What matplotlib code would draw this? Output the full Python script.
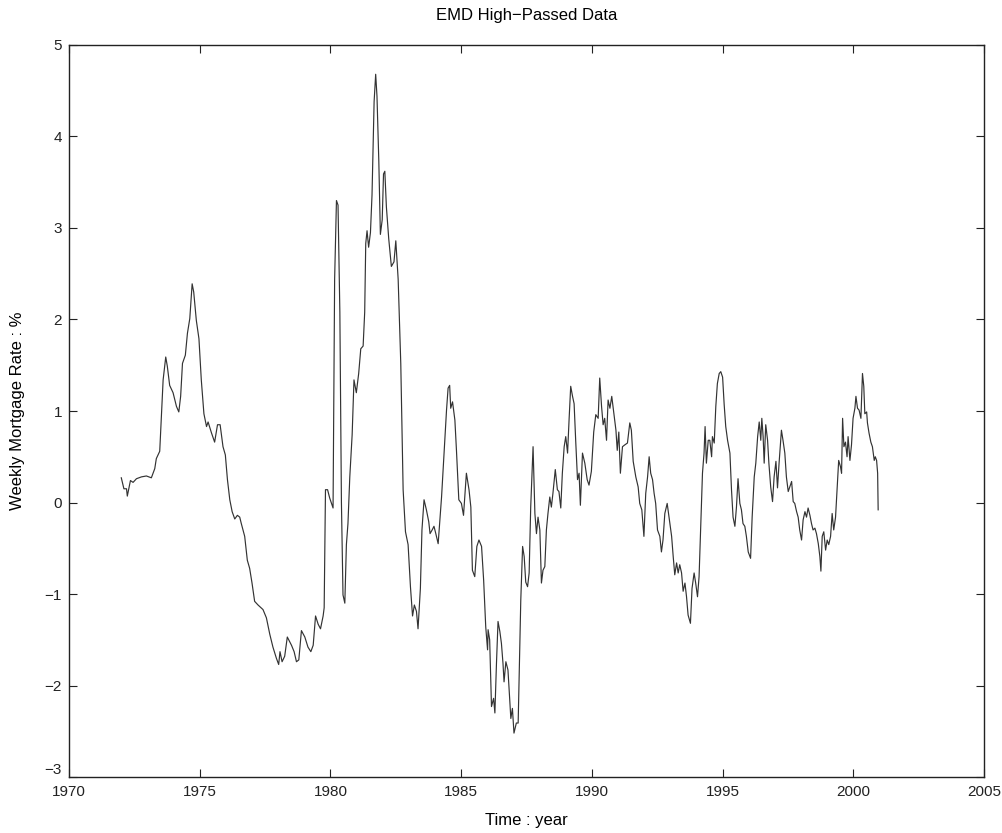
import matplotlib
matplotlib.use("Agg")
import matplotlib.pyplot as plt

# EMD high-passed weekly mortgage rate
years = [
    1972.00, 1972.10, 1972.20, 1972.23, 1972.35, 1972.45, 1972.58, 1972.77, 1972.96, 1973.15,
    1973.28, 1973.34, 1973.47, 1973.60, 1973.70, 1973.76, 1973.85, 1973.98, 1974.11, 1974.20,
    1974.27, 1974.34, 1974.45, 1974.53, 1974.62, 1974.71, 1974.77, 1974.87, 1974.97, 1975.06,
    1975.16, 1975.26, 1975.32, 1975.45, 1975.57, 1975.68, 1975.78, 1975.89, 1975.98, 1976.06,
    1976.15, 1976.24, 1976.34, 1976.44, 1976.53, 1976.59, 1976.72, 1976.82, 1976.91, 1977.00,
    1977.10, 1977.23, 1977.42, 1977.55, 1977.68, 1977.80, 1977.93, 1978.02, 1978.07, 1978.15,
    1978.25, 1978.35, 1978.51, 1978.61, 1978.70, 1978.79, 1978.89, 1979.02, 1979.14, 1979.25,
    1979.34, 1979.43, 1979.53, 1979.62, 1979.72, 1979.76, 1979.81, 1979.89, 1979.97, 1980.10,
    1980.16, 1980.23, 1980.29, 1980.36, 1980.42, 1980.48, 1980.55, 1980.61, 1980.67, 1980.74,
    1980.83, 1980.90, 1980.99, 1981.08, 1981.16, 1981.25, 1981.31, 1981.35, 1981.40, 1981.46,
    1981.53, 1981.59, 1981.67, 1981.73, 1981.78, 1981.85, 1981.91, 1981.98, 1982.03, 1982.08,
    1982.14, 1982.23, 1982.33, 1982.43, 1982.50, 1982.59, 1982.69, 1982.78, 1982.87, 1982.97,
    1983.06, 1983.14, 1983.21, 1983.29, 1983.35, 1983.44, 1983.50, 1983.58, 1983.67, 1983.76,
    1983.81, 1983.89, 1983.96, 1984.03, 1984.12, 1984.25, 1984.35, 1984.44, 1984.50, 1984.56,
    1984.60, 1984.67, 1984.76, 1984.82, 1984.91, 1985.01, 1985.09, 1985.20, 1985.30, 1985.37,
    1985.43, 1985.52, 1985.60, 1985.68, 1985.78, 1985.86, 1985.94, 1986.01, 1986.03, 1986.09,
    1986.16, 1986.24, 1986.29, 1986.35, 1986.41, 1986.48, 1986.54, 1986.60, 1986.64, 1986.71,
    1986.79, 1986.86, 1986.90, 1986.96, 1987.02, 1987.11, 1987.18, 1987.24, 1987.28, 1987.35,
    1987.41, 1987.47, 1987.54, 1987.60, 1987.66, 1987.75, 1987.82, 1987.88, 1987.94, 1988.01,
    1988.07, 1988.13, 1988.20, 1988.26, 1988.32, 1988.39, 1988.45, 1988.51, 1988.60, 1988.68,
    1988.74, 1988.81, 1988.87, 1988.94, 1989.00, 1989.07, 1989.13, 1989.19, 1989.26, 1989.32,
    1989.38, 1989.45, 1989.51, 1989.56, 1989.64, 1989.73, 1989.82, 1989.89, 1989.98, 1990.07,
    1990.15, 1990.24, 1990.30, 1990.37, 1990.43, 1990.49, 1990.56, 1990.62, 1990.69, 1990.76,
    1990.84, 1990.92, 1990.97, 1991.03, 1991.09, 1991.17, 1991.26, 1991.36, 1991.45, 1991.51,
    1991.58, 1991.68, 1991.77, 1991.83, 1991.91, 1991.99, 1992.06, 1992.13, 1992.19, 1992.25,
    1992.32, 1992.38, 1992.44, 1992.51, 1992.60, 1992.66, 1992.72, 1992.79, 1992.88, 1992.95,
    1993.05, 1993.11, 1993.17, 1993.24, 1993.30, 1993.36, 1993.43, 1993.49, 1993.56, 1993.62,
    1993.68, 1993.77, 1993.83, 1993.91, 1993.97, 1994.04, 1994.10, 1994.17, 1994.23, 1994.29,
    1994.33, 1994.38, 1994.45, 1994.51, 1994.58, 1994.61, 1994.68, 1994.74, 1994.80, 1994.87,
    1994.93, 1995.00, 1995.06, 1995.12, 1995.19, 1995.28, 1995.34, 1995.40, 1995.47, 1995.53,
    1995.59, 1995.66, 1995.72, 1995.78, 1995.85, 1995.91, 1995.98, 1996.07, 1996.13, 1996.21,
    1996.27, 1996.34, 1996.40, 1996.46, 1996.50, 1996.55, 1996.59, 1996.65, 1996.72, 1996.77,
    1996.84, 1996.91, 1996.97, 1997.04, 1997.10, 1997.16, 1997.25, 1997.31, 1997.38, 1997.44,
    1997.51, 1997.57, 1997.64, 1997.70, 1997.76, 1997.83, 1997.89, 1997.95, 1998.02, 1998.08,
    1998.15, 1998.21, 1998.27, 1998.34, 1998.40, 1998.46, 1998.53, 1998.59, 1998.66, 1998.72,
    1998.76, 1998.81, 1998.87, 1998.94, 1999.00, 1999.06, 1999.13, 1999.19, 1999.25, 1999.32,
    1999.38, 1999.44, 1999.51, 1999.55, 1999.59, 1999.64, 1999.70, 1999.76, 1999.80, 1999.87,
    1999.93, 1999.99, 2000.06, 2000.10, 2000.16, 2000.22, 2000.29, 2000.35, 2000.40, 2000.44,
    2000.51, 2000.54, 2000.60, 2000.67, 2000.73, 2000.80, 2000.84, 2000.89, 2000.93, 2000.95,
]
rate = [
    0.27, 0.15, 0.15, 0.07, 0.24, 0.22, 0.26, 0.28, 0.29, 0.27,
    0.37, 0.48, 0.56, 1.34, 1.59, 1.49, 1.28, 1.20, 1.05, 0.99,
    1.16, 1.52, 1.61, 1.85, 2.01, 2.39, 2.30, 1.99, 1.79, 1.34,
    0.97, 0.83, 0.88, 0.76, 0.66, 0.85, 0.85, 0.61, 0.52, 0.25,
    0.03, -0.10, -0.18, -0.14, -0.16, -0.23, -0.37, -0.63, -0.72, -0.88,
    -1.08, -1.12, -1.17, -1.26, -1.44, -1.58, -1.70, -1.77, -1.63, -1.74,
    -1.68, -1.47, -1.56, -1.63, -1.74, -1.72, -1.40, -1.47, -1.58, -1.63,
    -1.56, -1.24, -1.33, -1.38, -1.24, -1.15, 0.14, 0.14, 0.05, -0.06,
    2.44, 3.30, 3.25, 2.08, 0.00, -1.01, -1.10, -0.46, -0.23, 0.28,
    0.74, 1.34, 1.20, 1.41, 1.68, 1.71, 2.08, 2.83, 2.97, 2.79,
    2.95, 3.36, 4.38, 4.68, 4.44, 3.73, 2.93, 3.09, 3.59, 3.62,
    3.23, 2.88, 2.58, 2.63, 2.86, 2.44, 1.52, 0.14, -0.32, -0.46,
    -0.92, -1.24, -1.12, -1.19, -1.38, -0.94, -0.30, 0.03, -0.08, -0.21,
    -0.34, -0.30, -0.26, -0.34, -0.45, 0.06, 0.57, 1.01, 1.25, 1.28,
    1.03, 1.10, 0.90, 0.57, 0.03, -0.01, -0.14, 0.32, 0.14, -0.05,
    -0.74, -0.81, -0.48, -0.41, -0.48, -0.85, -1.36, -1.61, -1.39, -1.50,
    -2.23, -2.14, -2.30, -1.76, -1.30, -1.41, -1.54, -1.76, -1.96, -1.74,
    -1.83, -2.16, -2.36, -2.25, -2.52, -2.41, -2.41, -1.61, -1.07, -0.48,
    -0.59, -0.87, -0.92, -0.77, -0.05, 0.61, -0.12, -0.34, -0.16, -0.30,
    -0.88, -0.74, -0.70, -0.30, -0.12, 0.06, -0.05, 0.10, 0.36, 0.14,
    0.12, -0.06, 0.32, 0.61, 0.72, 0.54, 0.92, 1.27, 1.16, 1.08,
    0.68, 0.25, 0.32, -0.03, 0.54, 0.43, 0.25, 0.19, 0.34, 0.77,
    0.96, 0.92, 1.36, 1.05, 0.85, 0.92, 0.68, 1.12, 1.03, 1.16,
    0.97, 0.79, 0.57, 0.77, 0.32, 0.61, 0.63, 0.65, 0.87, 0.79,
    0.45, 0.28, 0.17, -0.01, -0.08, -0.37, 0.10, 0.28, 0.50, 0.32,
    0.25, 0.10, -0.01, -0.30, -0.37, -0.54, -0.41, -0.12, -0.01, -0.16,
    -0.37, -0.59, -0.79, -0.66, -0.77, -0.68, -0.77, -0.97, -0.88, -1.03,
    -1.23, -1.32, -0.94, -0.77, -0.88, -1.03, -0.81, -0.19, 0.32, 0.54,
    0.83, 0.43, 0.68, 0.68, 0.50, 0.72, 0.65, 1.05, 1.30, 1.41,
    1.43, 1.37, 1.07, 0.83, 0.68, 0.54, 0.14, -0.16, -0.26, -0.05,
    0.26, -0.01, -0.08, -0.23, -0.26, -0.37, -0.54, -0.61, -0.16, 0.28,
    0.43, 0.72, 0.88, 0.68, 0.92, 0.72, 0.43, 0.85, 0.68, 0.43,
    0.17, 0.01, 0.28, 0.45, 0.16, 0.43, 0.79, 0.68, 0.54, 0.28,
    0.12, 0.17, 0.23, 0.01, -0.01, -0.10, -0.16, -0.30, -0.41, -0.19,
    -0.10, -0.16, -0.06, -0.14, -0.23, -0.30, -0.28, -0.34, -0.45, -0.59,
    -0.75, -0.37, -0.32, -0.52, -0.41, -0.46, -0.37, -0.12, -0.30, -0.16,
    0.14, 0.46, 0.39, 0.32, 0.92, 0.61, 0.66, 0.50, 0.72, 0.46,
    0.63, 0.92, 1.03, 1.16, 1.03, 1.01, 0.92, 1.41, 1.27, 0.97,
    0.99, 0.87, 0.76, 0.66, 0.61, 0.46, 0.50, 0.46, 0.32, -0.08,
]

xticks = [1970, 1975, 1980, 1985, 1990, 1995, 2000, 2005]
yticks = [-3, -2, -1, 0, 1, 2, 3, 4, 5]

plt.rcParams['font.family'] = ['Liberation Sans', 'DejaVu Sans']
plt.rcParams['axes.unicode_minus'] = True

fig = plt.figure(figsize=(10.03, 8.33), dpi=100)
ax = fig.add_axes([0.0688, 0.0672, 0.9123, 0.8788])

ax.plot(years, rate, color='#333333', linewidth=0.85)

ax.set_xlim(1970, 2005)
ax.set_ylim(-3, 5)
ax.set_xticks(xticks)
ax.set_yticks(yticks)
ax.set_xticklabels([str(t) for t in xticks])
ax.set_yticklabels([str(t).replace('-', '\u2212') for t in yticks])
ax.tick_params(direction='in', length=6, width=0.8, top=True, right=True,
               labelsize=11, colors='#222222')
ax.tick_params(axis='x', pad=6)
ax.tick_params(axis='y', pad=5)
# MATLAB lifts the lowest y label a little above the corner
ax.get_yticklabels()[0].set_va('bottom')
for s in ax.spines.values():
    s.set_linewidth(1.0)
    s.set_color('#222222')

ax.set_title('EMD High\u2212Passed Data', fontsize=12, pad=18)
ax.set_xlabel('Time : year', fontsize=12, labelpad=10)
ax.set_ylabel('Weekly Mortgage Rate : %', fontsize=12, labelpad=14)

fig.savefig('out.png', dpi=100)
